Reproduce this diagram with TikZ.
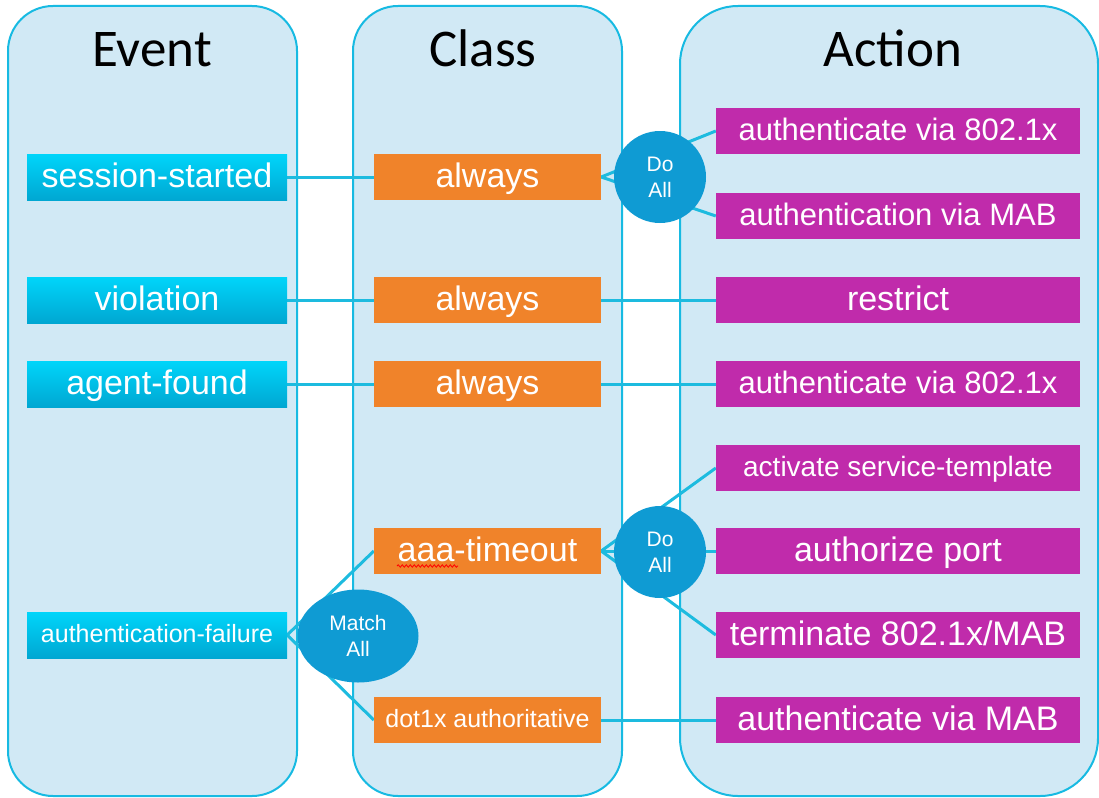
\documentclass[tikz,border=0pt]{standalone}
\usepackage{fontspec}
\setmainfont{Liberation Sans}
\newfontfamily\titlefont{Carlito}
\usetikzlibrary{shapes.geometric,decorations.pathmorphing}
\definecolor{panelfill}{HTML}{D1E9F5}
\definecolor{panelline}{HTML}{17BAE2}
\definecolor{evtop}{HTML}{00D5FA}
\definecolor{evbot}{HTML}{00A7D2}
\definecolor{clsorange}{HTML}{F0832A}
\definecolor{actmag}{HTML}{C02BAB}
\definecolor{hub}{HTML}{0F9BD3}
\definecolor{link}{HTML}{1DBBDF}
\pgfdeclarelayer{panels}
\pgfdeclarelayer{links}
\pgfsetlayers{panels,links,main}
\tikzset{
  panel/.style={draw=panelline, line width=2pt, fill=panelfill},
  box/.style={rectangle, minimum height=46pt, inner sep=0pt, text=white},
  evbox/.style={box, minimum width=260pt, top color=evtop, bottom color=evbot},
  clsbox/.style={box, minimum width=227pt, fill=clsorange},
  actbox/.style={box, minimum width=364pt, fill=actmag},
  fA/.style={font=\fontsize{34}{40}\selectfont, text height=24.5pt, text depth=4.5pt},
  fB/.style={font=\fontsize{31}{37}\selectfont, text height=22.3pt, text depth=4.1pt},
  fC/.style={font=\fontsize{28}{34}\selectfont, text height=20.2pt, text depth=3.7pt},
  fD/.style={font=\fontsize{25}{30}\selectfont, text height=18pt, text depth=3.3pt},
  hubnode/.style={fill=hub, text=white, align=center, inner sep=0pt, font=\fontsize{21}{26}\selectfont},
  wire/.style={draw=link, line width=3pt},
  title/.style={anchor=base, inner sep=0pt, font=\titlefont\fontsize{53}{60}\selectfont},
}
\begin{document}
\begin{tikzpicture}[x=1pt,y=-1pt]
\useasboundingbox (0,0) rectangle (1099,797);
\begin{pgfonlayer}{panels}
  \draw[panel, rounded corners=45pt] (8,6) rectangle (297,796);
  \draw[panel, rounded corners=45pt] (353,6) rectangle (622,796);
  \draw[panel, rounded corners=58pt] (680,6) rectangle (1098,796);
\end{pgfonlayer}
\node[title] (tev) at (152,67) {Event};
\node[title] (tcl) at (483,67) {Class};
\node[title] (tac) at (893,67) {Action};

\node[evbox,fA] (ss) at (157,177) {session-started};
\node[evbox,fA] (vio) at (157,300) {violation};
\node[evbox,fA] (agf) at (157,384) {agent-found};
\node[evbox,fD] (afail) at (157,635) {authentication-failure};

\node[clsbox,fA] (c1) at (487.5,177) {always};
\node[clsbox,fA] (c2) at (487.5,300) {always};
\node[clsbox,fA] (c3) at (487.5,384) {always};
\node[clsbox,fA] (aaa) at (487.5,551) {aaa-timeout};
\node[clsbox,fD] (dot) at (487.5,720) {dot1x authoritative};

\node[actbox,fB] (a1) at (898,131) {authenticate via 802.1x};
\node[actbox,fB] (a2) at (898,216) {authentication via MAB};
\node[actbox,fA] (a3) at (898,300) {restrict};
\node[actbox,fB] (a4) at (898,384) {authenticate via 802.1x};
\node[actbox,fC] (a5) at (898,468) {activate service-template};
\node[actbox,fA] (a6) at (898,551) {authorize port};
\node[actbox,fA] (a7) at (898,635) {terminate 802.1x/MAB};
\node[actbox,fA] (a8) at (898,720) {authenticate via MAB};

\node[hubnode, circle, minimum size=92pt] (h1) at (660,177) {Do\\All};
\node[hubnode, circle, minimum size=92pt] (h2) at (660,552) {Do\\All};
\node[hubnode, ellipse, minimum width=121pt, minimum height=93pt] (m) at (358,636) {Match\\All};

\begin{pgfonlayer}{links}
  \draw[wire] (ss.east) -- (c1.west);
  \draw[wire] (c1.east) -- (a1.west);
  \draw[wire] (c1.east) -- (a2.west);
  \draw[wire] (vio.east) -- (c2.west);
  \draw[wire] (c2.east) -- (a3.west);
  \draw[wire] (agf.east) -- (c3.west);
  \draw[wire] (c3.east) -- (a4.west);
  \draw[wire] (aaa.east) -- (a5.west);
  \draw[wire] (aaa.east) -- (a6.west);
  \draw[wire] (aaa.east) -- (a7.west);
  \draw[wire] (afail.east) -- (aaa.west);
  \draw[wire] (afail.east) -- (dot.west);
  \draw[wire] (dot.east) -- (a8.west);
\end{pgfonlayer}
\draw[red, line width=0.8pt, decorate, decoration={snake, amplitude=1.2pt, segment length=4pt}] (397,566) -- (458,566);
\end{tikzpicture}
\end{document}
